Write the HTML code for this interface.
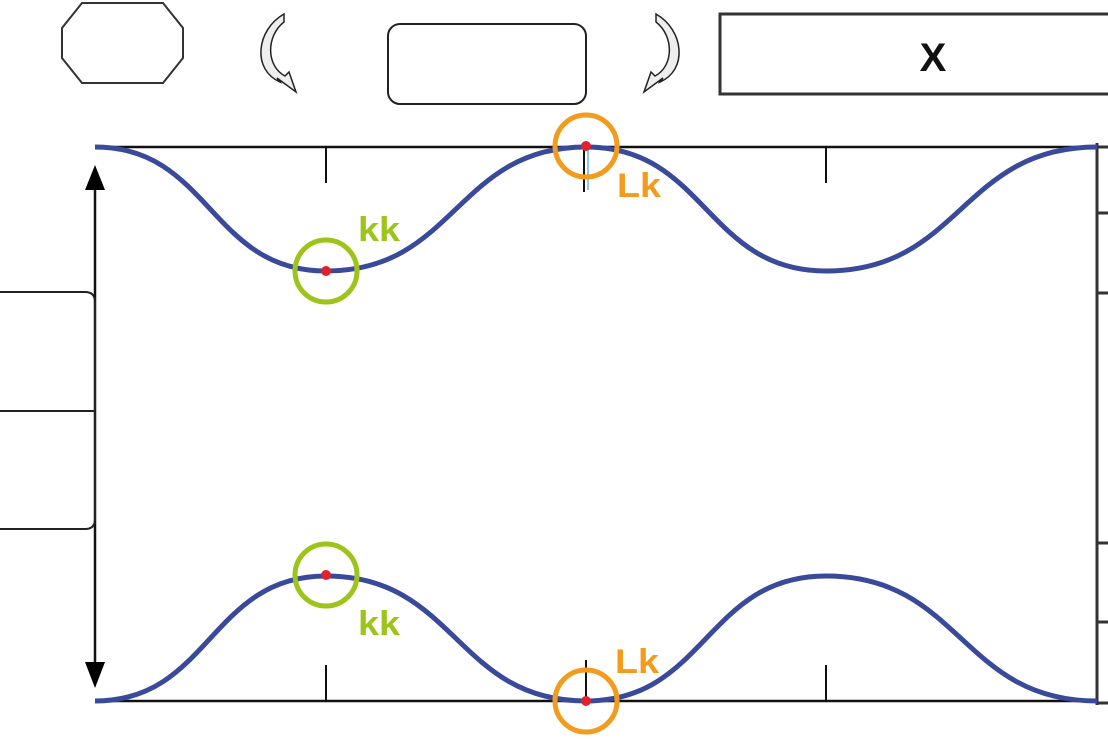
<!DOCTYPE html>
<html><head><style>body{margin:0;background:#fff}svg{display:block}</style></head>
<body>
<svg width="1108" height="739" viewBox="0 0 1108 739" xmlns="http://www.w3.org/2000/svg" font-family="Liberation Sans, sans-serif">
<defs>
<marker id="ah" markerWidth="10" markerHeight="10" refX="5" refY="5" orient="auto" markerUnits="userSpaceOnUse" viewBox="0 0 10 10"><path d="M0,0 L10,5 L0,10 z" fill="#000"/></marker>
</defs>
<!-- top shapes -->
<polygon points="82,3 163,3 183,28 183,58 163,83 82,83 62,58 62,28" fill="#fff" stroke="#333" stroke-width="2"/>
<rect x="388" y="24" width="198" height="80" rx="12" fill="#fff" stroke="#222" stroke-width="2"/>
<rect x="720" y="14" width="400" height="80" fill="#fff" stroke="#333" stroke-width="3"/>
<text x="933" y="71" font-size="40" font-weight="bold" text-anchor="middle" fill="#111">X</text>
<!-- curved arrows -->
<path d="M284,14 C256,30 252,70 280,82 L277,78 L296,92 L289,72 L285,76 C266,66 266,36 284,22 Z" fill="#eee" stroke="#222" stroke-width="1.5"/>
<path d="M656,14 C684,30 688,70 660,82 L663,78 L644,92 L651,72 L655,76 C674,66 674,36 656,22 Z" fill="#eee" stroke="#222" stroke-width="1.5"/>
<!-- frame -->
<line x1="95" y1="147" x2="1097" y2="147" stroke="#111" stroke-width="2.5"/>
<line x1="95" y1="701" x2="1097" y2="701" stroke="#111" stroke-width="2.5"/>
<line x1="1097" y1="143" x2="1097" y2="705" stroke="#333" stroke-width="3"/>
<g stroke="#333" stroke-width="3">
<line x1="1097" y1="147" x2="1108" y2="147"/><line x1="1097" y1="213" x2="1108" y2="213"/>
<line x1="1097" y1="293" x2="1108" y2="293"/><line x1="1097" y1="543" x2="1108" y2="543"/>
<line x1="1097" y1="622" x2="1108" y2="622"/><line x1="1097" y1="703" x2="1108" y2="703"/>
</g>
<g stroke="#111" stroke-width="2">
<line x1="326" y1="147" x2="326" y2="183"/><line x1="826" y1="147" x2="826" y2="183"/>
<line x1="584" y1="147" x2="584" y2="192"/>
<line x1="326" y1="665" x2="326" y2="701"/><line x1="826" y1="665" x2="826" y2="701"/>
<line x1="586" y1="660" x2="586" y2="701"/>
</g>
<line x1="588" y1="150" x2="588" y2="190" stroke="#6ab0e0" stroke-width="1.5"/>
<!-- left arrow -->
<line x1="95" y1="170" x2="95" y2="680" stroke="#111" stroke-width="2.5"/>
<polygon points="95,165 85,190 105,190" fill="#000"/>
<polygon points="95,688 85,662 105,662" fill="#000"/>
<!-- left box -->
<path d="M-5,292 L85,292 Q95,292 95,302 L95,519 Q95,529 85,529 L-5,529" fill="none" stroke="#222" stroke-width="2"/>
<line x1="0" y1="411" x2="95" y2="411" stroke="#222" stroke-width="2"/>
<!-- curves -->
<path d="M95,147 C210,147 210,271 326,271 C456,271 456,147 586,147 C706,147 706,271 826,271 C961,271 961,147 1097,147" fill="none" stroke="#3a4a9a" stroke-width="5"/>
<path d="M95,701 C210,701 210,576 326,576 C456,576 456,701 586,701 C706,701 706,576 826,576 C961,576 961,701 1097,701" fill="none" stroke="#3a4a9a" stroke-width="5"/>
<!-- circles -->
<g fill="none" stroke-width="5">
<circle cx="586" cy="146" r="31" stroke="#f29b1c"/>
<circle cx="586" cy="701" r="31" stroke="#f29b1c"/>
<circle cx="326" cy="271" r="31" stroke="#9dc41a"/>
<circle cx="326" cy="575" r="31" stroke="#9dc41a"/>
</g>
<g fill="#e0222a">
<circle cx="586" cy="146" r="5"/><circle cx="586" cy="701" r="5"/>
<circle cx="326" cy="271" r="5"/><circle cx="326" cy="575" r="5"/>
</g>
<g font-size="34" font-weight="bold">
<text x="358" y="241" fill="#9dc41a" textLength="42" lengthAdjust="spacingAndGlyphs">kk</text>
<text x="358" y="635" fill="#9dc41a" textLength="42" lengthAdjust="spacingAndGlyphs">kk</text>
<text x="617" y="197" fill="#f29b1c" textLength="44" lengthAdjust="spacingAndGlyphs">Lk</text>
<text x="615" y="673" fill="#f29b1c" textLength="44" lengthAdjust="spacingAndGlyphs">Lk</text>
</g>
</svg>
</body></html>
